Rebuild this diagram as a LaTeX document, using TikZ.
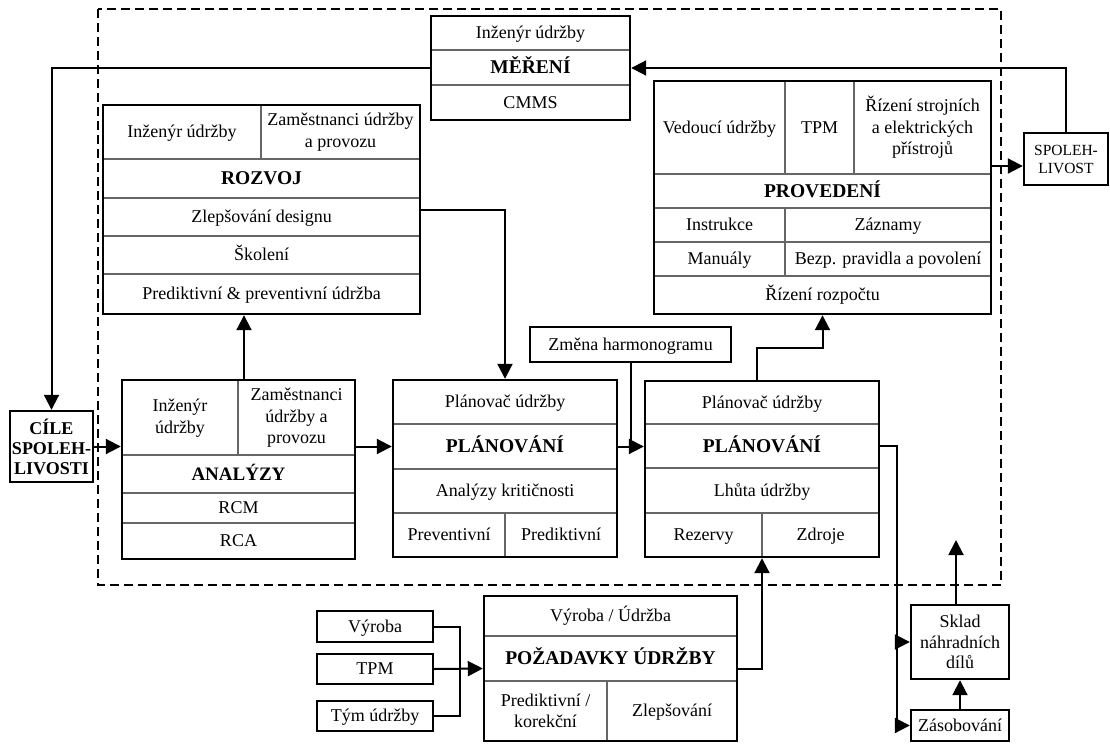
\documentclass[tikz,border=0pt]{standalone}
\usepackage{fontspec}
\setmainfont{Liberation Serif}
\usetikzlibrary{arrows.meta,calc}
\newcommand\fnorm{\fontsize{18}{21.5}\selectfont}
\newcommand\fttl{\fontsize{19.5}{22}\selectfont\bfseries}
\newcommand\fsmall{\fontsize{15.5}{18}\selectfont}
% box frame from (x1,y1) to (x2,y2), pixel-like units, y downwards
\newcommand\mkbox[5]{\node[frame,minimum width={(#4-#2)*1pt},minimum height={(#5-#3)*1pt}] (#1) at ({(#2+#4)/2},{(#3+#5)/2}) {};}
\begin{document}
\begin{tikzpicture}[x=1pt,y=-1pt,
  frame/.style={draw=black,line width=2.6pt,inner sep=0pt,outer sep=1.2pt},
  sep/.style={draw=black!60,line width=1.3pt},
  mtxt/.style={font=\fnorm,align=center,inner sep=0pt},
  txt/.style={mtxt,text height=14pt,text depth=2.2pt},
  ttl/.style={font=\fttl,align=center,inner sep=0pt,text height=15.2pt,text depth=2.4pt},
  link/.style={line width=2pt},
  arr/.style={line width=2pt,-{Triangle[length=15pt,width=15pt]}},
  border/.style={line width=2.3pt,dash pattern=on 9pt off 5pt}]

\useasboundingbox (0,0) rectangle (1110,744);

% dashed system boundary
\draw[border] (98,9) rectangle (1001,585);

% ---------- inner dividers ----------
% MERENI
\draw[sep] (431,50) -- (630,50);
\draw[sep] (431,85) -- (630,85);
% ROZVOJ
\draw[sep] (103,159) -- (420,159);
\draw[sep] (103,198) -- (420,198);
\draw[sep] (103,236) -- (420,236);
\draw[sep] (103,274) -- (420,274);
\draw[sep] (261,105) -- (261,159);
% PROVEDENI
\draw[sep] (654,174) -- (991,174);
\draw[sep] (654,208) -- (991,208);
\draw[sep] (654,242) -- (991,242);
\draw[sep] (654,276) -- (991,276);
\draw[sep] (785,81) -- (785,174);
\draw[sep] (854,81) -- (854,174);
\draw[sep] (785,208) -- (785,276);
% ANALYZY
\draw[sep] (122,455) -- (355,455);
\draw[sep] (122,493) -- (355,493);
\draw[sep] (122,523) -- (355,523);
\draw[sep] (238,380) -- (238,455);
% PLANOVANI (1)
\draw[sep] (393,424) -- (617,424);
\draw[sep] (393,469) -- (617,469);
\draw[sep] (393,513) -- (617,513);
\draw[sep] (505,513) -- (505,557);
% PLANOVANI (2)
\draw[sep] (645,424) -- (879,424);
\draw[sep] (645,468) -- (879,468);
\draw[sep] (645,513) -- (879,513);
\draw[sep] (762,513) -- (762,557);
% POZADAVKY
\draw[sep] (484,636) -- (737,636);
\draw[sep] (484,681) -- (737,681);
\draw[sep] (607,681) -- (607,741);

% ---------- frames ----------
\mkbox{mer}{431}{16}{630}{120}
\mkbox{roz}{103}{105}{420}{314}
\mkbox{prov}{654}{81}{991}{314}
\mkbox{spol}{1024}{133}{1108}{185}
\mkbox{cile}{10}{411}{93}{482}
\mkbox{ana}{122}{380}{355}{559}
\mkbox{plan1}{393}{380}{617}{557}
\mkbox{zm}{530}{327}{731}{362}
\mkbox{plan2}{645}{381}{879}{557}
\mkbox{poz}{484}{596}{737}{741}
\mkbox{vyr}{317}{611}{433}{642}
\mkbox{tpm}{317}{654}{433}{684}
\mkbox{tym}{317}{701}{433}{731}
\mkbox{skl}{911}{605}{1009}{679}
\mkbox{zas}{911}{710}{1009}{741}

% ---------- texts ----------
\node[txt] (m1) at (530.5,33) {Inženýr údržby};
\node[ttl] (m2) at (530.5,67.5) {MĚŘENÍ};
\node[txt] (m3) at (530.5,102.5) {CMMS};

\node[txt] (r1a) at (182,132) {Inženýr údržby};
\node[mtxt] (r1b) at (340.5,132) {Zaměstnanci údržby\\a provozu};
\node[ttl] (r2) at (261.5,178.5) {ROZVOJ};
\node[txt] (r3) at (261.5,217) {Zlepšování designu};
\node[txt] (r4) at (261.5,255) {Školení};
\node[txt] (r5) at (261.5,294) {Prediktivní \& preventivní údržba};

\node[txt] (p1a) at (719.5,127.5) {Vedoucí údržby};
\node[txt] (p1b) at (819.5,127.5) {TPM};
\node[mtxt] (p1c) at (922.5,127.5) {Řízení strojních\\a elektrických\\přístrojů};
\node[ttl] (p2) at (822.5,191) {PROVEDENÍ};
\node[txt] (p3a) at (719.5,225) {Instrukce};
\node[txt] (p3b) at (888,225) {Záznamy};
\node[txt] (p4a) at (719.5,259) {Manuály};
\node[txt] (p4b) at (888,259) {Bezp. pravidla a povolení};
\node[txt] (p5) at (822.5,295) {Řízení rozpočtu};

\node[mtxt,font=\fsmall] (spt) at (1066,159) {SPOLEH-\\LIVOST};
\node[mtxt,font=\fontsize{18}{20}\selectfont\bfseries] (ct) at (51.5,446.5) {CÍLE\\SPOLEH-\\LIVOSTI};

\node[mtxt] (a1a) at (180,418) {Inženýr\\údržby};
\node[mtxt] (a1b) at (296.5,418) {Zaměstnanci\\údržby a\\provozu};
\node[ttl,font=\fontsize{19}{22}\selectfont\bfseries] (a2) at (238.5,474) {ANALÝZY};
\node[txt] (a3) at (238.5,508) {RCM};
\node[txt] (a4) at (238.5,541) {RCA};

\node[txt] (q1) at (505,402) {Plánovač údržby};
\node[ttl] (q2) at (505,446.5) {PLÁNOVÁNÍ};
\node[txt] (q3) at (505,491) {Analýzy kritičnosti};
\node[txt] (q4a) at (449,535) {Preventivní};
\node[txt] (q4b) at (561,535) {Prediktivní};

\node[txt] (zt) at (630.5,344.5) {Změna harmonogramu};

\node[txt] (s1) at (762,402.5) {Plánovač údržby};
\node[ttl] (s2) at (762,446) {PLÁNOVÁNÍ};
\node[txt] (s3) at (762,490.5) {Lhůta údržby};
\node[txt] (s4a) at (703.5,535) {Rezervy};
\node[txt] (s4b) at (820.5,535) {Zdroje};

\node[txt] (t1) at (610.5,616) {Výroba / Údržba};
\node[ttl] (t2) at (610.5,658.5) {POŽADAVKY ÚDRŽBY};
\node[mtxt] (t3a) at (545.5,711) {Prediktivní /\\korekční};
\node[txt] (t3b) at (672,711) {Zlepšování};

\node[txt] (vt) at (375,626.5) {Výroba};
\node[txt] (tt) at (375,669) {TPM};
\node[txt] (ymt) at (375,716) {Tým údržby};

\node[mtxt,font=\fontsize{18}{20.5}\selectfont] (skt) at (960,642) {Sklad\\náhradních\\dílů};
\node[txt] (zat) at (960,725.5) {Zásobování};

% ---------- connectors ----------
\draw[arr] (spol.north) |- (mer.east);
\draw[arr] (mer.west) -| (cile.north);
\draw[arr] (cile.east |- q2) -- (ana.west |- q2);
\coordinate (anaup) at ([xshift=5.5pt]ana.north);
\draw[arr] (anaup) -- (anaup |- roz.south);
\draw[arr] (roz.east) -| (plan1.north);
\draw[arr] (ana.east |- q2) -- (plan1.west |- q2);
\draw[arr] (plan1.east |- q2) -- (plan2.west |- q2);
\draw[link] (zm.south) -- (zm.south |- q2);
\coordinate (p2up) at ([xshift=-5pt]plan2.north);
\draw[arr] (p2up) |- ($(p2up)!0.5!(prov.south)$) -| (prov.south);
\coordinate (spolin) at ([yshift=-7pt]spol.west);
\draw[arr] (spolin -| prov.east) -- (spolin);
\coordinate (bus) at ($(plan2.east |- s2)+(17,0)$);
\draw[arr] (plan2.east |- s2) -- (bus) |- (zas.west);
\draw[arr] (bus |- skl.west) -- (skl.west);
\draw[arr] (zas.north) -- (skl.south);
\coordinate (sklend) at (956,540);
\draw[arr] (skl.north -| sklend) -- (sklend);
\draw[arr] (poz.east) -| (plan2.south);
\draw[arr] (tpm.east) -- (poz.west);
\draw[link] (vyr.east) -- ++(26,0) |- (tym.east);
\end{tikzpicture}
\end{document}
